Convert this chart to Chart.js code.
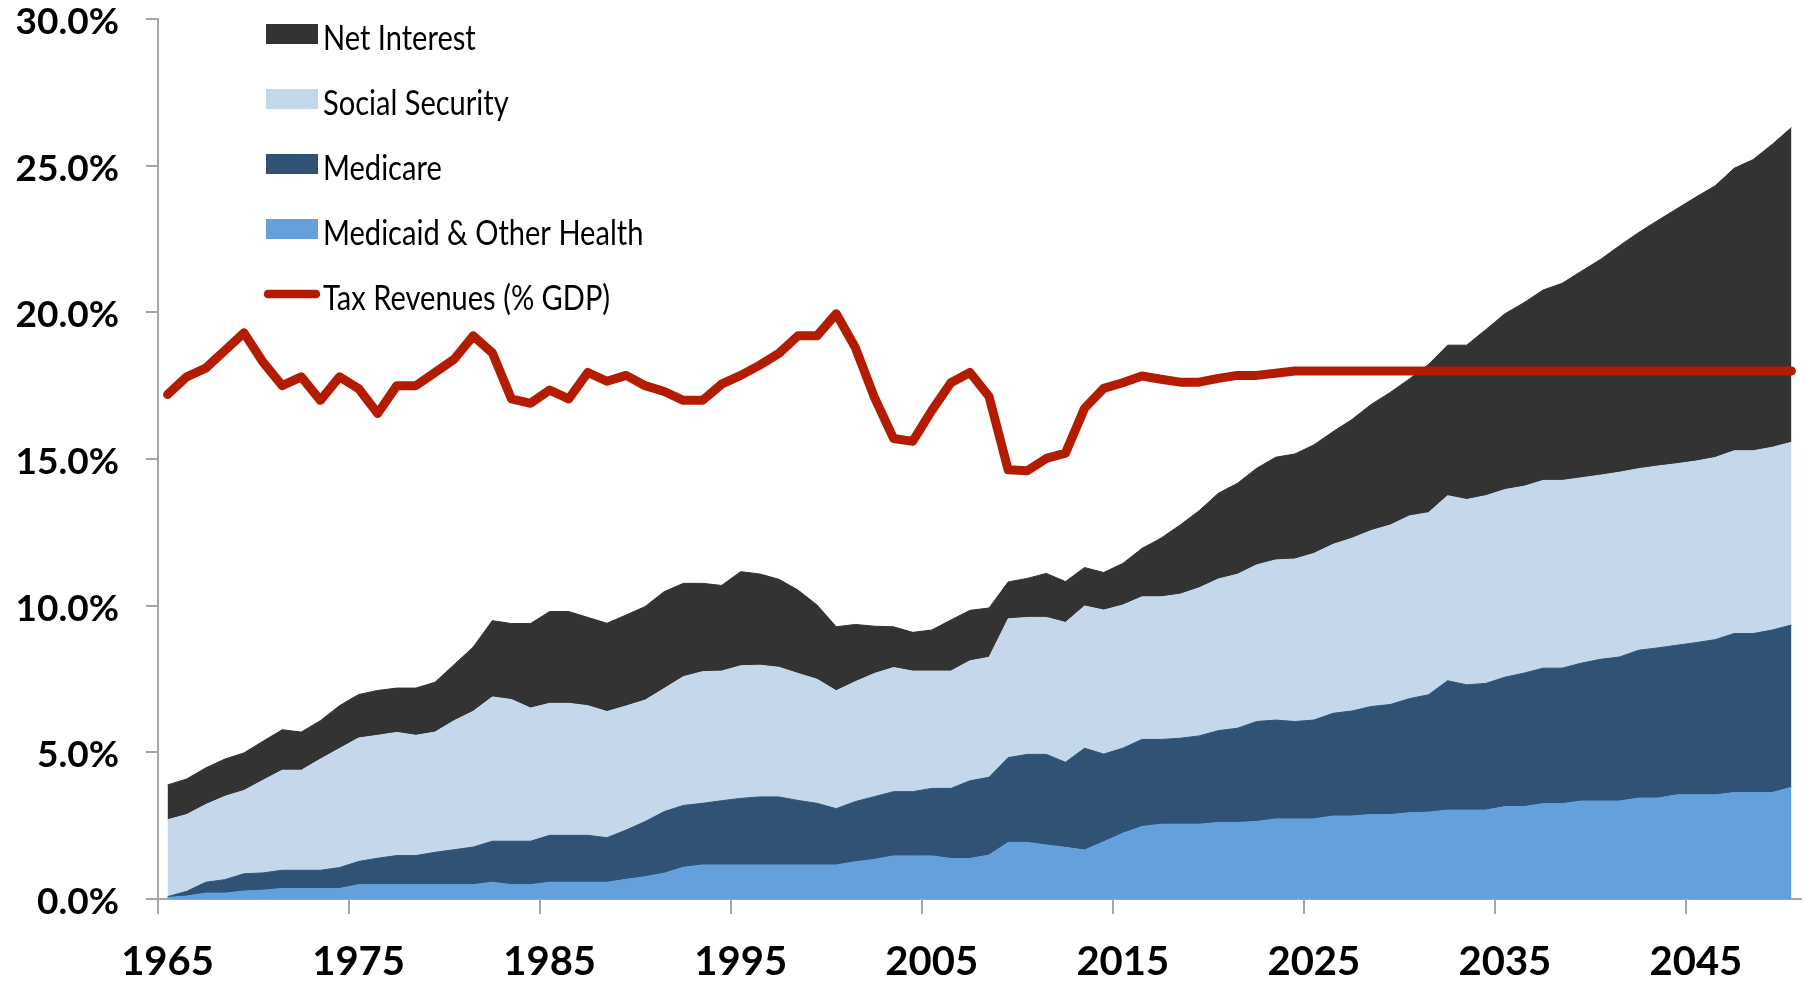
<!DOCTYPE html>
<html>
<head>
<meta charset="utf-8">
<script src="https://cdn.jsdelivr.net/npm/chart.js@4/dist/chart.umd.min.js"></script>
<style>
  html, body { margin: 0; padding: 0; background: #ffffff; overflow: hidden; }
  #wrap { width: 1806px; height: 984px; position: relative; }
  canvas { display: block; }
</style>
</head>
<body>
<div id="wrap"><canvas id="chart" width="1806" height="984"></canvas></div>
<script>
// ---------------- DATA ----------------
const years = ['1965','1966','1967','1968','1969','1970','1971','1972','1973','1974',
  '1975','1976','1977','1978','1979','1980','1981','1982','1983','1984',
  '1985','1986','1987','1988','1989','1990','1991','1992','1993','1994',
  '1995','1996','1997','1998','1999','2000','2001','2002','2003','2004',
  '2005','2006','2007','2008','2009','2010','2011','2012','2013','2014',
  '2015','2016','2017','2018','2019','2020','2021','2022','2023','2024',
  '2025','2026','2027','2028','2029','2030','2031','2032','2033','2034',
  '2035','2036','2037','2038','2039','2040','2041','2042','2043','2044',
  '2045','2046','2047','2048','2049','2050'];

const xTickYears = ['1965','1975','1985','1995','2005','2015','2025','2035','2045'];

// % of GDP (stacked from bottom)
const medicaidOther = [0.05,0.10,0.20,0.20,0.27,0.30,0.36,0.36,0.36,0.36,
  0.49,0.49,0.49,0.49,0.49,0.49,0.49,0.57,0.49,0.49,
  0.57,0.57,0.57,0.57,0.67,0.76,0.88,1.08,1.16,1.16,
  1.16,1.16,1.16,1.16,1.16,1.16,1.27,1.35,1.47,1.47,
  1.47,1.38,1.38,1.50,1.93,1.93,1.84,1.76,1.67,1.95,
  2.24,2.47,2.55,2.55,2.55,2.61,2.61,2.64,2.73,2.73,
  2.73,2.83,2.83,2.88,2.88,2.94,2.96,3.03,3.03,3.03,
  3.15,3.15,3.25,3.25,3.34,3.34,3.34,3.44,3.44,3.55,
  3.55,3.55,3.63,3.63,3.63,3.81];

const medicare = [0.03,0.16,0.37,0.46,0.59,0.59,0.62,0.62,0.62,0.71,
  0.79,0.90,0.99,0.99,1.10,1.19,1.28,1.40,1.48,1.48,
  1.60,1.60,1.60,1.52,1.68,1.88,2.10,2.11,2.10,2.19,
  2.27,2.32,2.32,2.20,2.10,1.92,2.05,2.14,2.19,2.19,
  2.30,2.39,2.65,2.65,2.89,3.00,3.09,2.90,3.47,2.99,
  2.90,2.97,2.89,2.93,3.01,3.13,3.21,3.41,3.37,3.32,
  3.37,3.50,3.58,3.68,3.75,3.89,4.00,4.41,4.27,4.32,
  4.41,4.55,4.62,4.62,4.70,4.83,4.91,5.04,5.12,5.10,
  5.19,5.29,5.42,5.42,5.54,5.53];

const socialSecurity = [2.62,2.62,2.65,2.84,2.84,3.16,3.41,3.41,3.79,4.06,
  4.21,4.19,4.20,4.10,4.10,4.40,4.63,4.92,4.83,4.54,
  4.50,4.50,4.42,4.30,4.23,4.14,4.20,4.39,4.49,4.42,
  4.52,4.49,4.42,4.33,4.23,4.02,4.09,4.20,4.23,4.11,
  4.00,4.00,4.09,4.09,4.73,4.67,4.67,4.77,4.85,4.91,
  4.88,4.86,4.86,4.91,5.05,5.17,5.25,5.34,5.46,5.54,
  5.68,5.76,5.89,6.00,6.12,6.23,6.21,6.31,6.32,6.40,
  6.40,6.37,6.40,6.40,6.32,6.28,6.30,6.19,6.20,6.19,
  6.19,6.21,6.23,6.23,6.23,6.23];

const netInterest = [1.19,1.21,1.25,1.27,1.28,1.33,1.38,1.30,1.31,1.46,
  1.48,1.53,1.51,1.61,1.70,1.91,2.19,2.60,2.59,2.88,
  3.13,3.13,3.01,3.01,3.10,3.19,3.30,3.18,3.01,2.92,
  3.21,3.11,3.00,2.84,2.53,2.18,1.95,1.61,1.39,1.32,
  1.40,1.74,1.72,1.68,1.26,1.33,1.50,1.39,1.31,1.28,
  1.42,1.65,2.00,2.36,2.63,2.92,3.10,3.29,3.50,3.58,
  3.70,3.84,4.05,4.30,4.52,4.67,5.05,5.13,5.26,5.66,
  5.99,6.26,6.49,6.72,7.04,7.35,7.72,8.05,8.37,8.69,
  9.00,9.26,9.63,9.93,10.33,10.73];

const taxRevenues = [17.20,17.80,18.10,18.70,19.30,18.30,17.50,17.80,17.00,17.80,
  17.40,16.55,17.50,17.50,17.95,18.40,19.20,18.62,17.05,16.90,
  17.35,17.05,17.95,17.65,17.85,17.50,17.30,17.00,17.00,17.55,
  17.85,18.20,18.60,19.20,19.20,19.95,18.80,17.10,15.70,15.60,
  16.65,17.60,17.95,17.13,14.63,14.60,15.02,15.20,16.73,17.41,
  17.60,17.83,17.72,17.62,17.62,17.75,17.85,17.85,17.92,18.00,
  18.00,18.00,18.00,18.00,18.00,18.00,18.00,18.00,18.00,18.00,
  18.00,18.00,18.00,18.00,18.00,18.00,18.00,18.00,18.00,18.00,
  18.00,18.00,18.00,18.00,18.00,18.00];

const seriesLabels = ['Tax Revenues (% GDP)', 'Medicaid & Other Health', 'Medicare', 'Social Security', 'Net Interest'];
const yMin = 0, yMax = 30, yStep = 5;

// ---------------- STYLE ----------------
const FONT = 'Lato, "Open Sans", "DejaVu Sans", sans-serif';
const AXIS_COLOR = '#a6a6a6';
const COLORS = {
  tax: '#b41c02',
  medicaid: '#64a0dc',
  medicare: '#2f5275',
  ss: '#c4d7eb',
  ni: '#333333'
};

// Legend drawn as a vertical list in the upper-left of the plot
const legendPlugin = {
  id: 'verticalLegend',
  afterDraw(chart) {
    const ctx = chart.ctx;
    const order = [4, 3, 2, 1, 0];
    const x0 = 266, sw = 52, sh = 20, cy0 = 34, dy = 65, tx = 323, sx = 0.83;
    ctx.save();
    ctx.font = '35px ' + FONT;
    ctx.textAlign = 'left';
    ctx.textBaseline = 'alphabetic';
    order.forEach((di, row) => {
      const ds = chart.data.datasets[di];
      const cy = cy0 + row * dy;
      if (ds.fill === false) {
        ctx.strokeStyle = ds.borderColor;
        ctx.lineWidth = 8.5;
        ctx.lineCap = 'round';
        ctx.beginPath();
        ctx.moveTo(x0 + 2, cy);
        ctx.lineTo(x0 + sw - 2, cy);
        ctx.stroke();
      } else {
        ctx.fillStyle = ds.backgroundColor;
        ctx.fillRect(x0, cy - sh / 2, sw, sh);
      }
      ctx.save();
      ctx.translate(tx, cy + 16);
      ctx.scale(sx, 1);
      ctx.fillStyle = '#000000';
      ctx.fillText(ds.label, 0, 0);
      ctx.restore();
    });
    ctx.restore();
  }
};

const areaDs = (label, data, color, fill) => ({
  type: 'line',
  label: label,
  data: data,
  stack: 'spend',
  fill: fill,
  backgroundColor: color,
  borderColor: color,
  borderWidth: 1,
  pointRadius: 0,
  pointHoverRadius: 0,
  tension: 0
});

const chart = new Chart(document.getElementById('chart'), {
  type: 'line',
  data: {
    labels: years,
    datasets: [
      {
        type: 'line',
        label: seriesLabels[0],
        data: taxRevenues,
        stack: 'tax',
        fill: false,
        borderColor: COLORS.tax,
        backgroundColor: COLORS.tax,
        borderWidth: 9,
        borderCapStyle: 'round',
        borderJoinStyle: 'round',
        pointRadius: 0,
        pointHoverRadius: 0,
        tension: 0
      },
      areaDs(seriesLabels[1], medicaidOther, COLORS.medicaid, 'origin'),
      areaDs(seriesLabels[2], medicare, COLORS.medicare, '-1'),
      areaDs(seriesLabels[3], socialSecurity, COLORS.ss, '-1'),
      areaDs(seriesLabels[4], netInterest, COLORS.ni, '-1')
    ]
  },
  options: {
    responsive: false,
    maintainAspectRatio: false,
    animation: false,
    devicePixelRatio: 1,
    layout: { padding: { left: 0, right: 5, top: 19, bottom: 0 } },
    plugins: {
      legend: { display: false },
      tooltip: { enabled: false },
      title: { display: false }
    },
    scales: {
      x: {
        type: 'category',
        offset: true,
        grid: {
          offset: true,
          drawOnChartArea: false,
          drawTicks: true,
          tickLength: 15,
          lineWidth: 2,
          color: (c) => (c.index !== undefined && xTickYears.includes(years[c.index])) ? AXIS_COLOR : 'rgba(0,0,0,0)'
        },
        border: { display: true, color: AXIS_COLOR, width: 2 },
        ticks: {
          autoSkip: false,
          maxRotation: 0,
          minRotation: 0,
          padding: 24,
          color: '#000000',
          font: { family: FONT, size: 40, weight: 'bold' },
          callback: function (v, i) {
            const lab = years[i];
            return xTickYears.includes(lab) ? lab : '';
          }
        },
        afterFit: (s) => { s.height = 85; s.paddingLeft = 0; s.paddingRight = 0; }
      },
      y: {
        stacked: true,
        min: yMin,
        max: yMax,
        grid: {
          drawOnChartArea: false,
          drawTicks: true,
          tickLength: 12,
          lineWidth: 2,
          color: AXIS_COLOR
        },
        border: { display: true, color: AXIS_COLOR, width: 2 },
        ticks: {
          stepSize: yStep,
          padding: 27,
          labelOffset: 3,
          color: '#000000',
          font: { family: FONT, size: 37, weight: 'bold', lineHeight: 1 },
          callback: (v) => v.toFixed(1) + '%'
        },
        afterFit: (s) => { s.width = 158; s.paddingTop = 0; s.paddingBottom = 0; }
      }
    }
  },
  plugins: [legendPlugin]
});
</script>
</body>
</html>
